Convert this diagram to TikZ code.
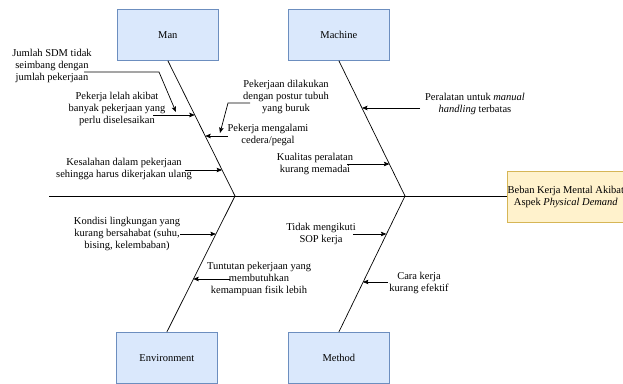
\documentclass[tikz,border=0pt]{standalone}
\usepackage{fontspec}
\setmainfont{Liberation Serif}
\usetikzlibrary{arrows.meta}
\definecolor{catfill}{HTML}{DAE8FC}
\definecolor{catline}{HTML}{6C8EBF}
\definecolor{efffill}{HTML}{FFF2CC}
\definecolor{effline}{HTML}{D6B656}
\begin{document}
\begin{tikzpicture}[x=1pt,y=-1pt,
  cat/.style={draw=catline, fill=catfill, line width=0.7pt, minimum width=101pt, minimum height=51pt, inner sep=0pt, anchor=north west, font=\fontsize{10.5}{12}\selectfont},
  eff/.style={draw=effline, fill=efffill, line width=0.7pt, minimum width=117pt, minimum height=51pt, inner sep=0pt, anchor=north west, align=center, font=\fontsize{10.5}{12}\selectfont},
  lbl/.style={align=center, font=\fontsize{10.5}{12}\selectfont, inner sep=0pt},
  bone/.style={draw=black, line width=0.7pt},
  arr/.style={-{Stealth[length=5.5pt,width=4.5pt,inset=1pt]}, line width=0.7pt}]
\useasboundingbox (0,0) rectangle (623,383);

% category boxes
\node[cat] (man) at (117,9) {Man};
\node[cat] (machine) at (288,9) {Machine};
\node[cat] (env) at (116,332) {Environment};
\node[cat] (method) at (288,332) {Method};
\node[eff] (eff) at (507,171) {Beban Kerja Mental Akibat\\Aspek \textit{Physical Demand}};

% spine and bones
\coordinate (tail) at (49,196);
\coordinate (j1) at (235,196);
\coordinate (j2) at (405,196);
\draw[bone] (tail) -- (tail -| eff.west);
\draw[bone] (man.south) -- (j1);
\draw[bone] (machine.south) -- (j2);
\draw[bone] (env.north) -- (j1);
\draw[bone] (method.north) -- (j2);

% labels
\node[lbl] (t1) at (52,66) {Jumlah SDM tidak\\seimbang dengan\\jumlah pekerjaan};
\node[lbl] (t2) at (117,109) {Pekerja lelah akibat\\banyak pekerjaan yang\\perlu diselesaikan};
\node[lbl] (t3) at (286,97) {Pekerjaan dilakukan\\dengan postur tubuh\\yang buruk};
\node[lbl] (t4) at (268,134.5) {Pekerja mengalami\\cedera/pegal};
\node[lbl] (t5) at (124,169) {Kesalahan dalam pekerjaan\\sehingga harus dikerjakan ulang};
\node[lbl] (t6) at (475,103.5) {Peralatan untuk \textit{manual}\\\textit{handling} terbatas};
\node[lbl] (t7) at (315,163.5) {Kualitas peralatan\\kurang memadai};
\node[lbl] (t8) at (127,234) {Kondisi lingkungan yang\\kurang bersahabat (suhu,\\bising, kelembaban)};
\node[lbl] (t9) at (259,279) {Tuntutan pekerjaan yang\\membutuhkan\\kemampuan fisik lebih};
\node[lbl] (t10) at (321,233.5) {Tidak mengikuti\\SOP kerja};
\node[lbl] (t11) at (419,283) {Cara kerja\\kurang efektif};

% arrow end points
\coordinate (s1) at (84,72);   \coordinate (k1) at (159,72);  \coordinate (e1) at (176,112);
\coordinate (s2) at (153,115); \coordinate (e2) at (194.8,115);
\coordinate (s3) at (250,103); \coordinate (k3) at (228,103); \coordinate (e3) at (220,133);
\coordinate (s4) at (228,136); \coordinate (e4) at (205.2,136);
\coordinate (s5) at (185,170); \coordinate (e5) at (222.1,170);
\coordinate (s6) at (420,108); \coordinate (e6) at (362,108);
\coordinate (s7) at (347,164); \coordinate (e7) at (389.4,164);
\coordinate (s8) at (180,234); \coordinate (e8) at (215.9,234);
\coordinate (s9) at (230,279); \coordinate (e9) at (193.2,279);
\coordinate (s10) at (353,234); \coordinate (e10) at (386.4,234);
\coordinate (s11) at (388,282); \coordinate (e11) at (362.9,282);

\draw[arr] (s1) -- (k1) -- (e1);
\draw[arr] (s2) -- (e2);
\draw[arr] (s3) -- (k3) -- (e3);
\draw[arr] (s4) -- (e4);
\draw[arr] (s5) -- (e5);
\draw[arr] (s6) -- (e6);
\draw[arr] (s7) -- (e7);
\draw[arr] (s8) -- (e8);
\draw[arr] (s9) -- (e9);
\draw[arr] (s10) -- (e10);
\draw[arr] (s11) -- (e11);
\end{tikzpicture}
\end{document}
